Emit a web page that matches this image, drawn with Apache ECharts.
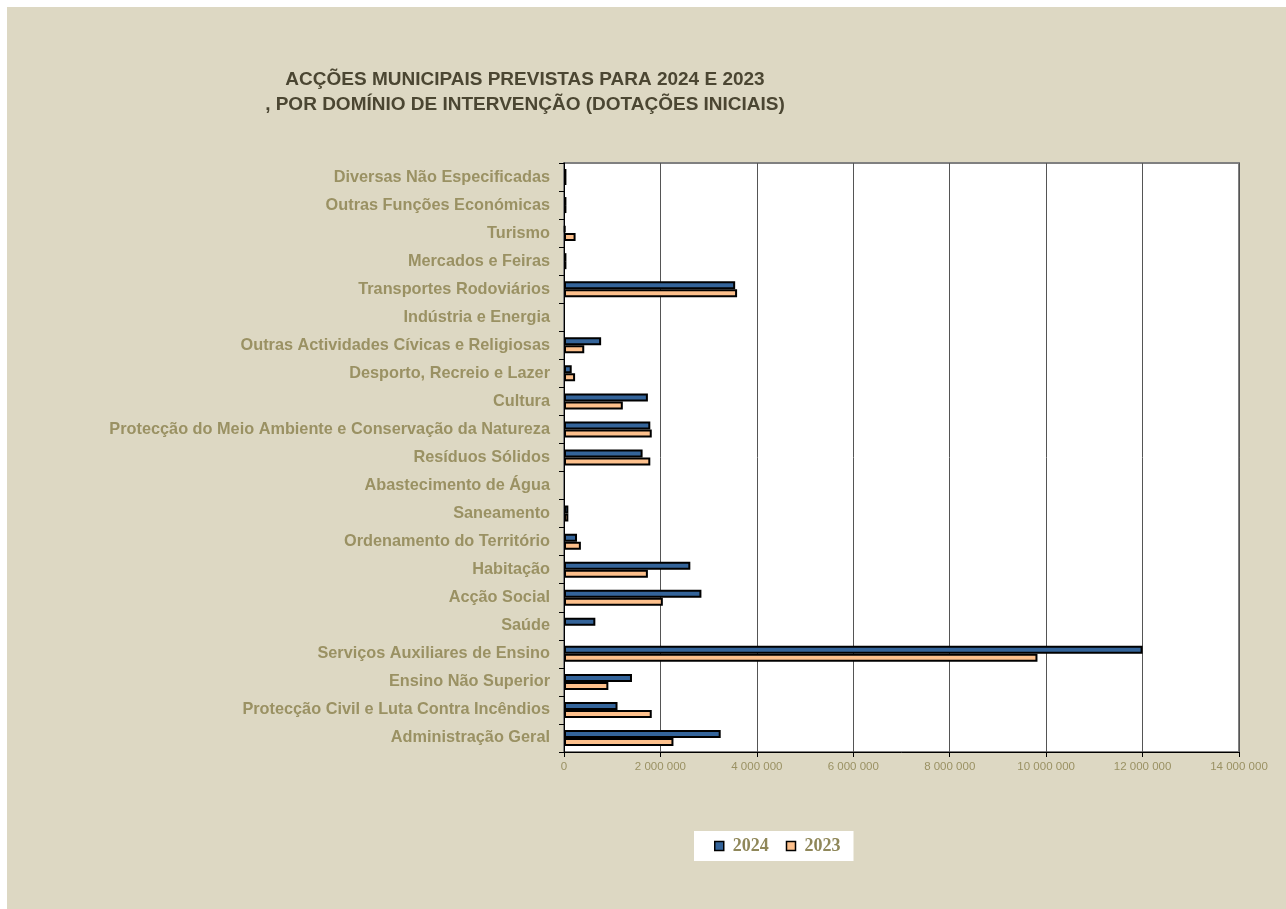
<!DOCTYPE html>
<html>
<head>
<meta charset="utf-8">
<script src="https://cdn.jsdelivr.net/npm/echarts@6/dist/echarts.min.js"></script>
<style>
html,body{margin:0;padding:0;background:#ffffff;}
#wrap{position:relative;width:1286px;height:909px;overflow:hidden;}
#bg{position:absolute;left:7px;top:7px;right:0;bottom:0;background:#DDD8C3;}
#chart{position:absolute;left:0;top:0;width:1286px;height:909px;}
</style>
</head>
<body>
<div id="wrap"><div id="bg"></div><div id="chart"></div></div>
<script>
// Categories from bottom to top
const categories = [
  'Administração Geral',
  'Protecção Civil e Luta Contra Incêndios',
  'Ensino Não Superior',
  'Serviços Auxiliares de Ensino',
  'Saúde',
  'Acção Social',
  'Habitação',
  'Ordenamento do Território',
  'Saneamento',
  'Abastecimento de Água',
  'Resíduos Sólidos',
  'Protecção do Meio Ambiente e Conservação da Natureza',
  'Cultura',
  'Desporto, Recreio e Lazer',
  'Outras Actividades Cívicas e Religiosas',
  'Indústria e Energia',
  'Transportes Rodoviários',
  'Mercados e Feiras',
  'Turismo',
  'Outras Funções Económicas',
  'Diversas Não Especificadas'
];
const values2024 = [3250000, 1110000, 1410000, 12000000, 650000, 2850000, 2620000, 270000, 90000, null, 1630000, 1790000, 1740000, 160000, 770000, null, 3550000, 50000, 30000, 50000, 50000];
const values2023 = [2270000, 1820000, 920000, 9820000, null, 2050000, 1740000, 350000, 90000, null, 1790000, 1820000, 1220000, 230000, 420000, null, 3590000, 50000, 240000, 50000, 50000];
const xTicks = [0, 2000000, 4000000, 6000000, 8000000, 10000000, 12000000, 14000000];

const olive = '#9A9163';
const chart = echarts.init(document.getElementById('chart'), null, {renderer: 'canvas'});
function fmt(v){ return String(v).replace(/\B(?=(\d{3})+(?!\d))/g, ' '); }

chart.setOption({
  backgroundColor: 'transparent',
  animation: false,
  title: {
    text: 'ACÇÕES MUNICIPAIS PREVISTAS PARA 2024 E 2023\n, POR DOMÍNIO DE INTERVENÇÃO (DOTAÇÕES INICIAIS)',
    left: 525,
    top: 67,
    textAlign: 'center',
    padding: 0,
    textStyle: {
      fontFamily: 'Liberation Sans, Arial, sans-serif',
      fontWeight: 'bold',
      fontSize: 19,
      lineHeight: 25,
      color: '#4B4632'
    }
  },
  legend: {
    data: ['2024', '2023'],
    left: 694,
    top: 831,
    padding: [6, 13, 6, 20],
    backgroundColor: '#ffffff',
    itemGap: 17,
    itemWidth: 9,
    itemHeight: 9,
    icon: 'rect',
    itemStyle: {borderColor: '#000000', borderWidth: 1.5},
    textStyle: {
      fontFamily: 'Liberation Serif, Times New Roman, serif',
      fontWeight: 'bold',
      fontSize: 18,
      color: '#8F8759',
      padding: [0, 0, 0, 4]
    }
  },
  grid: {
    left: 564,
    right: 47,
    top: 163,
    bottom: 157,
    containLabel: false,
    show: true,
    backgroundColor: '#ffffff',
    borderColor: '#808080',
    borderWidth: 2
  },
  xAxis: {
    type: 'value',
    min: 0,
    max: 14000000,
    interval: 2000000,
    axisLine: {show: true, lineStyle: {color: '#000000', width: 1}},
    axisTick: {show: true, length: 5, lineStyle: {color: '#000000'}},
    splitLine: {show: true, lineStyle: {color: '#555555', width: 1}},
    axisLabel: {
      margin: 9,
      fontFamily: 'Liberation Sans, Arial, sans-serif',
      fontSize: 11.5,
      color: olive,
      formatter: function(v){ return fmt(v); }
    }
  },
  yAxis: {
    type: 'category',
    data: categories,
    axisLine: {show: true, lineStyle: {color: '#000000', width: 1}},
    axisTick: {show: true, length: 5, lineStyle: {color: '#000000'}},
    splitLine: {show: false},
    axisLabel: {
      margin: 14,
      fontFamily: 'Liberation Sans, Arial, sans-serif',
      fontWeight: 'bold',
      fontSize: 16.3,
      color: olive
    }
  },
  series: [
    {
      name: '2024',
      type: 'bar',
      data: values2024,
      barWidth: 8,
      barGap: '0%',
      itemStyle: {color: '#34649A', borderColor: '#000000', borderWidth: 2}
    },
    {
      name: '2023',
      type: 'bar',
      data: values2023,
      barWidth: 8,
      barGap: '0%',
      itemStyle: {color: '#FDC08C', borderColor: '#000000', borderWidth: 2}
    }
  ]
});
</script>
</body>
</html>
